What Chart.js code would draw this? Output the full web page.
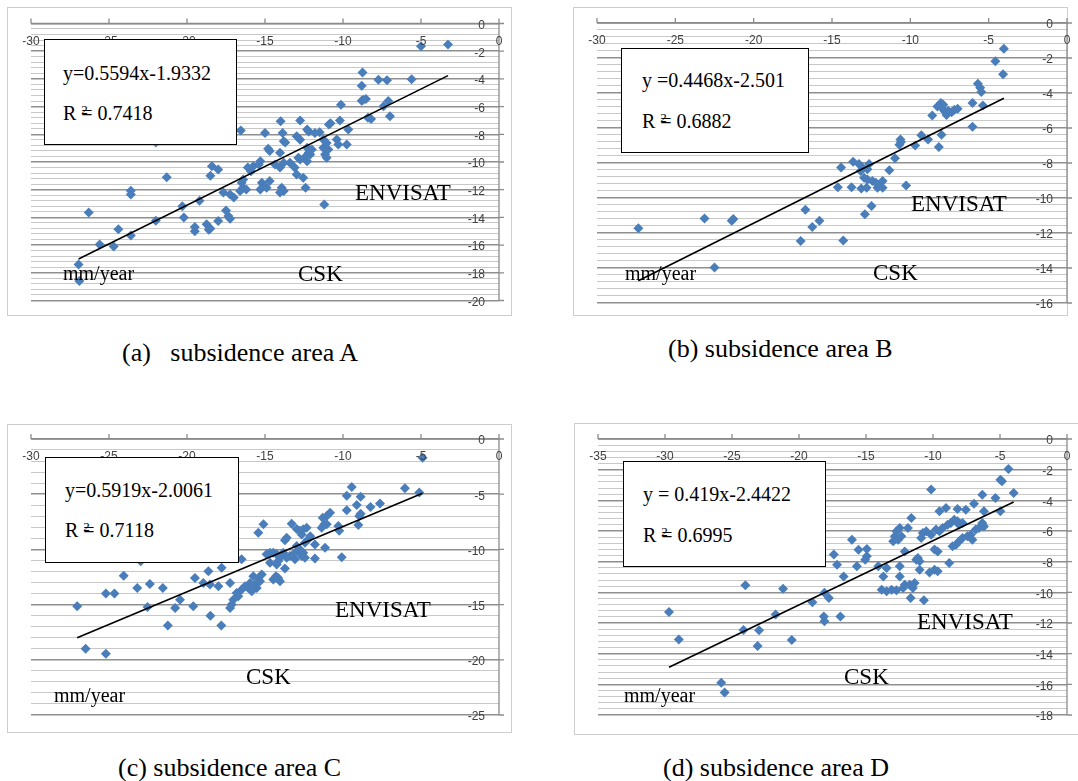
<!DOCTYPE html>
<html>
<head>
<meta charset="utf-8">
<script src="https://cdn.jsdelivr.net/npm/chart.js@4.4.1/dist/chart.umd.min.js"></script>
<style>
  body { margin: 0; background: #fff; width: 1078px; height: 781px; position: relative; overflow: hidden; font-family: "Liberation Serif", "Times New Roman", serif; }
  canvas { position: absolute; }
  .frame { position: absolute; border: 1px solid #cdcdcd; box-sizing: border-box; }
  .eq { position: absolute; background: #fff; border: 1.5px solid #000; box-sizing: border-box; }
  .t { position: absolute; white-space: pre; line-height: 1; color: #000; }
  .f20 { font-size: 20px; }
  .f23 { font-size: 23px; }
  .cap { font-size: 26px; }
  .sq { display: inline-block; width: 0; font-size: 13px; position: relative; top: -6px; }
</style>
</head>
<body>

<div class="frame" style="left:7px;top:7px;width:505px;height:309px"></div>
<div class="frame" style="left:573px;top:7px;width:495px;height:309px"></div>
<div class="frame" style="left:7px;top:424px;width:505px;height:309px"></div>
<div class="frame" style="left:574px;top:423px;width:505px;height:312px"></div>

<canvas id="chartA" width="505" height="309" style="left:7px;top:7px"></canvas>
<canvas id="chartB" width="505" height="309" style="left:573px;top:7px"></canvas>
<canvas id="chartC" width="505" height="309" style="left:7px;top:424px"></canvas>
<canvas id="chartD" width="504" height="313" style="left:574px;top:423px"></canvas>

<!-- panel A texts -->
<div class="eq" style="left:44px;top:39px;width:193px;height:106px"></div>
<div class="t f20" style="left:63px;top:63px">y=0.5594x-1.9332</div>
<div class="t f20" style="left:63px;top:103px">R <span class="sq">2</span>= 0.7418</div>
<div class="t f23" style="left:355px;top:181px">ENVISAT</div>
<div class="t f23" style="left:298px;top:262px">CSK</div>
<div class="t f20" style="left:63px;top:263px">mm/year</div>

<!-- panel B texts -->
<div class="eq" style="left:621px;top:48px;width:188px;height:105px"></div>
<div class="t f20" style="left:642px;top:70px">y =0.4468x-2.501</div>
<div class="t f20" style="left:642px;top:111px">R <span class="sq">2</span>= 0.6882</div>
<div class="t f23" style="left:911px;top:192px">ENVISAT</div>
<div class="t f23" style="left:873px;top:261px">CSK</div>
<div class="t f20" style="left:625px;top:263px">mm/year</div>

<!-- panel C texts -->
<div class="eq" style="left:45px;top:457px;width:194px;height:106px"></div>
<div class="t f20" style="left:65px;top:480px">y=0.5919x-2.0061</div>
<div class="t f20" style="left:65px;top:520px">R <span class="sq">2</span>= 0.7118</div>
<div class="t f23" style="left:335px;top:598px">ENVISAT</div>
<div class="t f23" style="left:246px;top:665px">CSK</div>
<div class="t f20" style="left:54px;top:685px">mm/year</div>

<!-- panel D texts -->
<div class="eq" style="left:623px;top:461px;width:203px;height:106px"></div>
<div class="t f20" style="left:643px;top:484px">y = 0.419x-2.4422</div>
<div class="t f20" style="left:643px;top:525px">R <span class="sq">2</span>= 0.6995</div>
<div class="t f23" style="left:917px;top:610px">ENVISAT</div>
<div class="t f23" style="left:844px;top:665px">CSK</div>
<div class="t f20" style="left:624px;top:685px">mm/year</div>

<!-- captions -->
<div class="t cap" style="left:122px;top:340px">(a)   subsidence area A</div>
<div class="t cap" style="left:668px;top:336px">(b) subsidence area B</div>
<div class="t cap" style="left:118px;top:755px">(c) subsidence area C</div>
<div class="t cap" style="left:663px;top:755px">(d) subsidence area D</div>

<script>
// ---- data (CSK on x, ENVISAT on y, mm/year) ----
const cskA = [-10.13,-8.8,-7.4,-6.99,-8.4,-8.2,-9.66,-10.2,-10.8,-10.9,-11.5,-11.8,-12.2,-12.3,-12.75,-14.0,-15.0,-13.87,-13.8,-13.7,
  -14.8,-14.7,-14.04,-12.97,-12.75,-12.3,-12.0,-12.2,-12.1,-11.26,-11.05,-11.26,-10.94,-11.15,-11.05,-10.4,-10.3,-9.76,-12.86,-12.75,
  -12.4,-12.3,-13.4,-13.1,-12.97,-12.55,-12.4,-13.8,-14.36,-14.04,-15.3,-15.4,-15.75,-16.1,-15.9,-16.4,-16.5,-16.4,-16.2,-16.6,
  -15.2,-15.1,-15.3,-14.9,-14.7,-13.93,-13.8,-14.04,-17.67,-17.24,-17.0,-18.4,-18.5,-18.0,-19.2,-20.3,-20.2,-17.5,-17.35,-17.24,
  -18.0,-18.74,-19.5,-11.2,-3.27,-5.0,-8.75,-8.8,-8.7,-8.53,-7.73,-7.18,-5.6,-7.1,-21.3,-22.0,-22.0,-23.6,-23.6,-23.6,
  -24.4,-24.7,-25.6,-26.3,-26.95,-26.9,-19.5,-18.6,-18.5,-16.55];
const envA = [-5.86,-5.58,-5.98,-6.7,-6.8,-6.9,-7.66,-7.0,-7.2,-7.3,-7.85,-7.9,-7.8,-7.66,-7.0,-7.06,-7.9,-7.9,-8.5,-8.6,
  -9.05,-9.2,-9.34,-8.14,-8.4,-8.98,-9.1,-9.34,-9.46,-8.38,-8.62,-8.98,-9.1,-9.46,-9.7,-8.38,-8.74,-8.74,-9.7,-9.82,
  -9.6,-9.94,-10.06,-10.4,-10.9,-11.14,-11.86,-10.06,-10.18,-10.4,-9.94,-10.18,-10.3,-10.4,-10.66,-11.26,-11.5,-11.86,-11.98,-12.1,
  -11.5,-11.74,-11.98,-11.86,-11.38,-11.86,-12.1,-12.2,-12.2,-12.34,-12.57,-10.3,-11.0,-10.54,-12.8,-13.2,-14.0,-13.5,-13.9,-14.1,
  -14.26,-14.5,-14.7,-13.06,-1.52,-1.64,-3.53,-4.49,-5.5,-5.46,-4.06,-4.1,-4.03,-5.6,-11.1,-8.6,-14.25,-12.08,-12.35,-15.3,
  -14.85,-16.1,-15.95,-13.65,-17.4,-18.6,-15.0,-14.9,-14.8,-7.73];

const cskB = [-4.03,-4.57,-4.08,-5.69,-5.54,-5.47,-6.03,-5.37,-6.03,-8.6,-8.27,-8.05,-7.97,-7.8,-7.58,-7.37,-7.19,-6.98,-7.69,-7.9,
  -8.01,-8.18,-8.87,-9.3,-9.69,-10.63,-10.6,-10.7,-10.98,-11.34,-10.27,-14.42,-13.65,-13.28,-13.06,-12.74,-12.63,-13.17,-12.95,-12.74,
  -12.42,-12.2,-11.99,-11.77,-11.77,-12.1,-14.63,-13.75,-13.13,-12.79,-12.48,-12.9,-14.28,-16.7,-16.26,-15.8,-17.0,-21.3,-21.4,-23.14,
  -27.36,-22.5];
const envB = [-1.47,-2.19,-2.93,-3.47,-3.7,-3.94,-4.57,-4.71,-5.93,-5.29,-4.77,-4.57,-4.87,-5.06,-5.02,-5.1,-4.96,-4.9,-5.25,-4.67,
  -6.38,-7.09,-6.65,-6.41,-7.0,-6.65,-6.8,-6.96,-7.73,-8.41,-9.28,-8.26,-7.93,-8.06,-8.26,-8.35,-8.06,-8.45,-8.84,-8.94,
  -9.03,-9.13,-9.32,-9.03,-9.42,-9.42,-9.38,-9.38,-9.46,-9.42,-10.45,-10.93,-12.43,-10.67,-11.65,-11.3,-12.46,-11.2,-11.3,-11.17,
  -11.73,-13.97];

const cskC = [-5.11,-6.03,-9.44,-9.76,-8.87,-8.24,-7.63,-9.12,-9.76,-8.96,-8.87,-9.02,-10.83,-11.04,-11.3,-11.04,-10.3,-10.24,-11.37,-11.2,
  -10.08,-11.8,-11.15,-12.1,-11.8,-12.55,-12.33,-12.65,-12.22,-12.44,-13.29,-13.61,-13.72,-12.97,-12.76,-12.97,-12.86,-13.18,-13.4,-12.65,
  -13.08,-13.61,-13.83,-12.76,-12.55,-12.44,-14.25,-14.04,-14.15,-14.68,-14.47,-14.9,-15.1,-15.43,-14.68,-14.25,-13.72,-14.15,-14.04,-14.47,
  -14.3,-15.21,-15.43,-15.32,-15.64,-15.75,-15.53,-15.85,-16.07,-15.96,-16.28,-16.49,-16.71,-16.82,-17.03,-17.14,-17.24,-17.78,-17.24,-18.63,
  -17.99,-18.53,-18.95,-19.49,-16.5,-20.45,-20.76,-19.6,-4.9,-27.04,-26.5,-25.2,-25.2,-24.65,-24.06,-23.19,-22.38,-22.53,-21.55,-21.23,
  -22.97,-18.5,-17.8];
const envC = [-4.85,-4.45,-4.34,-5.15,-5.24,-6.15,-5.85,-5.97,-6.45,-6.97,-6.76,-7.79,-6.67,-6.97,-7.13,-7.73,-7.88,-8.32,-8.04,-7.73,
  -10.7,-10.82,-9.85,-8.8,-9.55,-8.18,-8.04,-8.64,-9.09,-9.4,-7.67,-8.95,-9.18,-8.16,-8.32,-9.7,-10.14,-10.45,-10.6,-10.6,
  -10.9,-10.76,-10.31,-10.0,-10.31,-10.76,-10.45,-10.76,-11.06,-10.3,-10.3,-10.45,-7.73,-8.49,-11.2,-11.36,-11.72,-12.58,-12.88,-12.73,
  -12.43,-12.27,-12.58,-12.88,-13.18,-12.43,-13.49,-13.79,-13.49,-13.04,-13.34,-13.64,-14.25,-13.95,-14.55,-15.0,-15.31,-11.67,-13.04,-11.97,
  -13.34,-13.18,-13.04,-12.58,-10.9,-14.55,-15.31,-15.15,-1.7,-15.15,-19.0,-19.46,-14.0,-14.0,-12.38,-13.49,-13.13,-15.21,-13.49,-16.9,
  -11.08,-16.0,-16.9];

const cskD = [-4.37,-4.97,-4.85,-3.98,-5.34,-6.32,-10.14,-6.94,-6.2,-4.97,-7.55,-8.17,-9.03,-9.52,-11.62,-12.48,-12.73,-12.85,-12.6,-12.97,
  -12.36,-11.87,-10.76,-10.88,-10.51,-10.14,-9.77,-9.52,-9.28,-8.91,-8.66,-8.42,-8.17,-8.05,-7.8,-8.54,-8.29,-8.05,-7.8,-7.43,
  -7.18,-7.06,-6.81,-6.57,-6.2,-6.32,-9.89,-9.65,-8.79,-11.13,-11.0,-11.25,-12.11,-11.0,-10.26,-9.89,-9.65,-12.48,-12.48,-13.71,
  -13.46,-14.08,-12.11,-11.74,-11.37,-11.5,-12.23,-13.83,-13.46,-13.09,-12.73,-11.67,-10.68,-14.94,-15.56,-15.06,-14.94,-16.05,-15.68,-16.67,
  -17.16,-17.4,-17.77,-18.15,-16.91,-29.7,-28.97,-25.8,-25.55,-24.0,-24.14,-22.98,-23.09,-21.75,-21.19,-20.54,-19.0,-18.1,-18.1];
const envD = [-1.95,-2.65,-2.76,-3.52,-3.85,-3.63,-3.3,-4.22,-4.72,-4.72,-4.61,-4.57,-4.5,-4.72,-5.15,-5.8,-6.02,-6.35,-6.57,-6.67,
  -6.35,-5.8,-6.13,-6.46,-6.02,-6.24,-5.91,-6.02,-5.8,-5.59,-5.48,-5.26,-5.37,-5.59,-5.48,-7.0,-6.89,-6.67,-6.46,-6.35,
  -6.24,-6.57,-5.91,-5.8,-5.7,-5.48,-7.2,-7.33,-8.09,-7.76,-7.98,-7.87,-7.33,-8.52,-8.7,-8.52,-8.63,-8.3,-8.96,-8.96,
  -8.41,-8.3,-9.5,-9.5,-9.39,-9.72,-9.72,-9.83,-9.93,-9.83,-9.87,-10.37,-10.52,-7.17,-7.22,-7.87,-7.65,-6.57,-8.3,-8.96,
  -8.2,-7.54,-10.37,-11.57,-11.57,-11.29,-13.07,-15.89,-16.54,-9.53,-12.46,-12.48,-13.5,-11.44,-9.77,-13.11,-10.64,-11.88,-10.03];

// tick labels
const xTicks30 = [-30, -25, -20, -15, -10, -5, 0];
const xTicks35 = [-35, -30, -25, -20, -15, -10, -5, 0];
const yTicksA = [0, -2, -4, -6, -8, -10, -12, -14, -16, -18, -20];
const yTicksB = [0, -2, -4, -6, -8, -10, -12, -14, -16];
const yTicksC = [0, -5, -10, -15, -20, -25];
const yTicksD = [0, -2, -4, -6, -8, -10, -12, -14, -16, -18];

// linear fits (slope, intercept)
const fitA = [0.5594, -1.9332];
const fitB = [0.4468, -2.501];
const fitC = [0.5919, -2.0061];
const fitD = [0.419, -2.4422];

// axes drawn the Excel way: x axis along y=0 (top), y axis along x=0 (right)
const excelAxes = {
  id: 'excelAxes',
  afterDatasetsDraw(chart, args, opts) {
    const {ctx, chartArea: a, scales: {x, y}} = chart;
    const x0 = x.getPixelForValue(0), y0 = y.getPixelForValue(0);
    ctx.save();
    ctx.strokeStyle = '#8c8c8c';
    ctx.lineWidth = 1.3;
    ctx.beginPath();
    ctx.moveTo(a.left, y0); ctx.lineTo(a.right, y0);
    ctx.moveTo(x0, a.top); ctx.lineTo(x0, a.bottom);
    opts.xTicks.forEach(v => {
      const px = x.getPixelForValue(v);
      ctx.moveTo(px, y0 - 5); ctx.lineTo(px, y0);
    });
    opts.yTicks.forEach(v => {
      const py = y.getPixelForValue(v);
      ctx.moveTo(x0, py); ctx.lineTo(x0 + 5, py);
    });
    ctx.stroke();

    ctx.fillStyle = '#404040';
    ctx.font = '12px "Liberation Sans", Arial, sans-serif';
    ctx.textBaseline = 'middle';
    ctx.textAlign = 'center';
    opts.xTicks.forEach(v => ctx.fillText(String(v), x.getPixelForValue(v), y0 + 18));
    ctx.textAlign = 'right';
    opts.yTicks.forEach(v => ctx.fillText(String(v), x0 - 14, y.getPixelForValue(v) + 2));
    ctx.restore();
  }
};

function drawPanel(id, xs, ys, xTicks, yTicks, majorStep, minorStep, fit, pad) {
  const pts = xs.map((v, i) => ({x: v, y: ys[i]}));
  const lo = Math.min(...xs), hi = Math.max(...xs);
  const trend = [{x: lo, y: fit[0] * lo + fit[1]}, {x: hi, y: fit[0] * hi + fit[1]}];
  const isMajor = v => Math.abs(v / majorStep - Math.round(v / majorStep)) < 1e-6;

  new Chart(document.getElementById(id), {
    type: 'scatter',
    data: {
      datasets: [
        { data: trend, showLine: true, borderColor: '#000', borderWidth: 1.6, pointRadius: 0, order: 0 },
        { data: pts, pointStyle: 'rectRot', pointRadius: 5, backgroundColor: '#4a7ebb', borderWidth: 0, order: 1 }
      ]
    },
    options: {
      responsive: false,
      animation: false,
      devicePixelRatio: 1,
      events: [],
      layout: { padding: pad },
      plugins: {
        legend: { display: false },
        tooltip: { enabled: false },
        excelAxes: { xTicks, yTicks }
      },
      scales: {
        x: { type: 'linear', min: xTicks[0], max: 0, display: false },
        y: {
          type: 'linear', position: 'right',
          min: yTicks[yTicks.length - 1], max: 0,
          ticks: { display: false, stepSize: minorStep, maxTicksLimit: 500 },
          border: { display: false },
          grid: {
            drawTicks: false,
            color: c => isMajor(c.tick.value) ? '#8f8f8f' : '#c8c8c8',
            lineWidth: c => isMajor(c.tick.value) ? 1.5 : 1.1
          }
        }
      }
    },
    plugins: [excelAxes]
  });
}

drawPanel('chartA', cskA, envA, xTicks30, yTicksA, 2, 0.4, fitA, {left: 24, top: 16.5, right: 13, bottom: 15.5});
drawPanel('chartB', cskB, envB, xTicks30, yTicksB, 2, 0.4, fitB, {left: 24, top: 16, right: 11, bottom: 13});
drawPanel('chartC', cskC, envC, xTicks30, yTicksC, 5, 1, fitC, {left: 24, top: 15, right: 13, bottom: 18});
drawPanel('chartD', cskD, envD, xTicks35, yTicksD, 2, 0.4, fitD, {left: 24, top: 16, right: 11, bottom: 21});
</script>
</body>
</html>
